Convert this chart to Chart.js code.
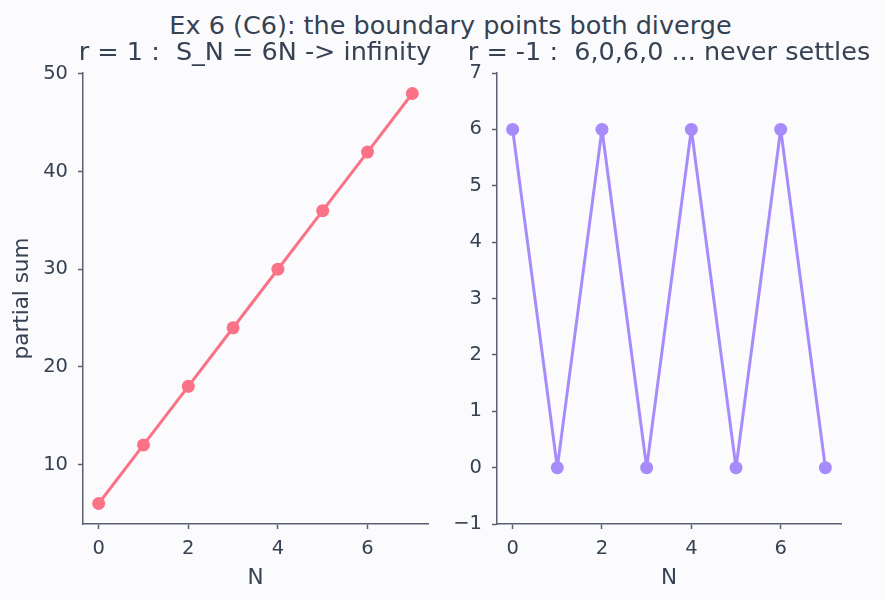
<!DOCTYPE html>
<html>
<head>
<meta charset="utf-8">
<script src="https://cdn.jsdelivr.net/npm/chart.js@4"></script>
<style>
  body { margin: 0; background: #fbfbfe; font-family: "DejaVu Sans", sans-serif; color: #364152; }
  #wrap { position: relative; width: 885px; height: 600px; overflow: hidden; }
  .ttl { position: absolute; font-size: 25.5px; white-space: pre; text-align: center; line-height: 30px; }
  canvas { position: absolute; }
</style>
</head>
<body>
<div id="wrap">
  <canvas id="leftChart" width="440" height="540" style="left:0;top:60px;"></canvas>
  <canvas id="rightChart" width="445" height="540" style="left:440px;top:60px;"></canvas>
  <div class="ttl" style="left:8px;width:885px;top:10px;">Ex 6 (C6): the boundary points both diverge</div>
  <div class="ttl" style="left:5px;width:500px;top:36px;">r = 1 :  S_N = 6N -&gt; infinity</div>
  <div class="ttl" style="left:419px;width:500px;top:36px;">r = -1 :  6,0,6,0 ... never settles</div>
</div>
<script>
var nValues = [0, 1, 2, 3, 4, 5, 6, 7];
var sumsR1 = [6, 12, 18, 24, 30, 36, 42, 48];
var sumsRm1 = [6, 0, 6, 0, 6, 0, 6, 0];
var xTicks = [0, 2, 4, 6];
var leftYTicks = [10, 20, 30, 40, 50];
var rightYTicks = [-1, 0, 1, 2, 3, 4, 5, 6, 7];

var axisColor = '#5b6070';
var textColor = '#364152';

function toPoints(ys){
    return nValues.map((n, i) => ({x: n, y: ys[i]}));
}

function fixedTicks(list){
    return function(scale){
        scale.ticks = list.map(v => ({value: v}));
    };
}

// keep the plot box where it is, labels may overflow it
function noOverflowPadding(scale){
    scale.paddingTop = 0;
    scale.paddingBottom = 0;
    scale.paddingLeft = 0;
    scale.paddingRight = 0;
}

function makePanel(canvasId, ys, color, yMin, yMax, yTicks, yTitle, yWidth, padRight){
    return new Chart(document.getElementById(canvasId), {
        type: 'scatter',
        data: {
            datasets: [{
                data: toPoints(ys),
                showLine: true,
                borderColor: color,
                backgroundColor: color,
                borderWidth: 3,
                borderJoinStyle: 'round',
                borderCapStyle: 'round',
                pointRadius: 6.5,
                pointBorderWidth: 0,
                pointHoverRadius: 6.5
            }]
        },
        options: {
            responsive: false,
            animation: false,
            layout: { padding: { top: 13, right: padRight, left: 0, bottom: 0 } },
            plugins: { legend: { display: false }, tooltip: { enabled: false } },
            scales: {
                x: {
                    type: 'linear',
                    min: -0.35,
                    max: 7.35,
                    afterBuildTicks: fixedTicks(xTicks),
                    afterFit: (scale) => { scale.height = 76; noOverflowPadding(scale); },
                    border: { color: axisColor, width: 1.5 },
                    grid: { drawOnChartArea: false, drawTicks: true, tickLength: 5, tickColor: axisColor, tickWidth: 1.5 },
                    ticks: { color: textColor, font: { size: 19.5, family: 'DejaVu Sans' }, padding: 8, maxRotation: 0 },
                    title: { display: true, text: 'N', color: textColor, font: { size: 21.5, family: 'DejaVu Sans' }, padding: { top: 0, bottom: 9 } }
                },
                y: {
                    type: 'linear',
                    min: yMin,
                    max: yMax,
                    afterBuildTicks: fixedTicks(yTicks),
                    afterFit: (scale) => { scale.width = yWidth; noOverflowPadding(scale); },
                    border: { color: axisColor, width: 1.5 },
                    grid: { drawOnChartArea: false, drawTicks: true, tickLength: 5, tickColor: axisColor, tickWidth: 1.5 },
                    ticks: {
                        color: textColor,
                        font: { size: 19.5, family: 'DejaVu Sans' },
                        padding: 10,
                        callback: (v) => (v < 0 ? '\u2212' + Math.abs(v) : String(v))
                    },
                    title: { display: yTitle !== '', text: yTitle, color: textColor, font: { size: 21.5, family: 'DejaVu Sans' }, padding: { top: 9.5, bottom: 0 } }
                }
            }
        }
    });
}

makePanel('leftChart', sumsR1, '#fb7185', 3.9, 50.1, leftYTicks, 'partial sum', 83, 12);
makePanel('rightChart', sumsRm1, '#a78bfa', -1, 7, rightYTicks, '', 57, 44);
</script>
</body>
</html>
